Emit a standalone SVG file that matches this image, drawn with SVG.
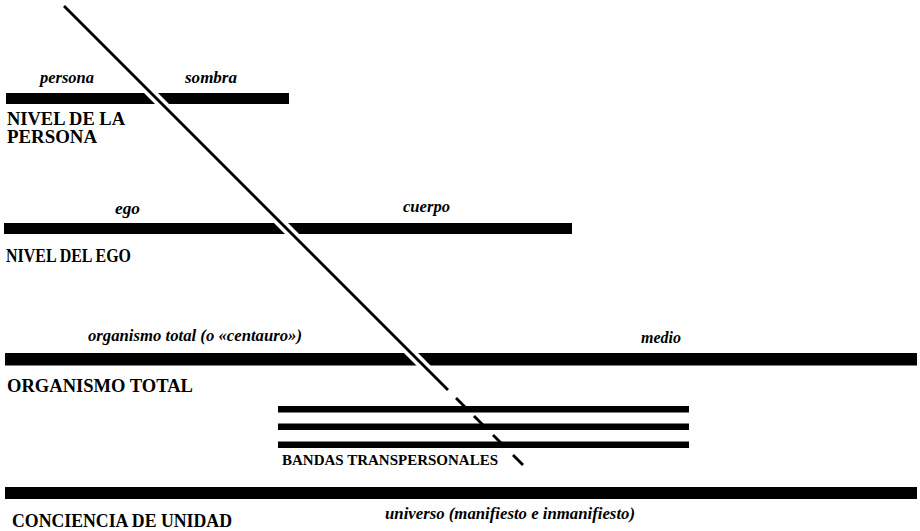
<svg xmlns="http://www.w3.org/2000/svg" width="920" height="531" viewBox="0 0 920 531">
<style>
text{font-family:'Liberation Serif','Times New Roman',Times,serif;fill:#000}
.bar{fill:#000}
.tb{fill:#000}
.h{font-weight:bold;font-size:19px}
.hs{font-weight:bold;font-size:15.5px}
.i{font-style:italic;font-weight:bold;font-size:16px}
.halo{stroke:#fff;stroke-width:10;fill:none}
.ln{stroke:#000;stroke-width:2.8;fill:none}
</style>
<rect width="920" height="531" fill="#fff"/>
<g id="nivel-persona">
<rect class="bar" x="6" y="93" width="283" height="11"/>
<text class="i" x="40" y="83" textLength="54" lengthAdjust="spacingAndGlyphs">persona</text>
<text class="i" x="185" y="83" textLength="52" lengthAdjust="spacingAndGlyphs">sombra</text>
<text class="h" x="7" y="125" textLength="118" lengthAdjust="spacingAndGlyphs">NIVEL DE LA</text>
<text class="h" x="7" y="143" textLength="90" lengthAdjust="spacingAndGlyphs">PERSONA</text>
</g>
<g id="nivel-ego">
<rect class="bar" x="4" y="223" width="568" height="11"/>
<text class="i" x="115" y="214" textLength="25" lengthAdjust="spacingAndGlyphs">ego</text>
<text class="i" x="403" y="212" textLength="47" lengthAdjust="spacingAndGlyphs">cuerpo</text>
<text class="h" x="6" y="262" textLength="125" lengthAdjust="spacingAndGlyphs">NIVEL DEL EGO</text>
</g>
<g id="organismo-total">
<rect class="bar" x="5" y="353" width="912" height="12.5"/>
<text class="i" x="88" y="341" textLength="214" lengthAdjust="spacingAndGlyphs">organismo total (o «centauro»)</text>
<text class="i" x="641" y="343" textLength="40" lengthAdjust="spacingAndGlyphs">medio</text>
<text class="h" x="7" y="392" textLength="186" lengthAdjust="spacingAndGlyphs">ORGANISMO TOTAL</text>
</g>
<g id="bandas-transpersonales">
<rect class="tb" x="278" y="406" width="411" height="6.5"/>
<rect class="tb" x="278" y="423.5" width="411" height="6.5"/>
<rect class="tb" x="278" y="441.5" width="411" height="6.5"/>
<text class="hs" x="282" y="465" textLength="216" lengthAdjust="spacingAndGlyphs">BANDAS TRANSPERSONALES</text>
</g>
<g id="conciencia-unidad">
<rect class="bar" x="5" y="487" width="912" height="12"/>
<text class="h" x="12" y="527" textLength="220" lengthAdjust="spacingAndGlyphs">CONCIENCIA DE UNIDAD</text>
<text class="i" x="385" y="519" textLength="250" lengthAdjust="spacingAndGlyphs">universo (manifiesto e inmanifiesto)</text>
</g>
<g id="connectors">
<line class="halo" x1="64" y1="6" x2="448" y2="390"/>
<line class="ln" x1="64" y1="6" x2="448" y2="390"/>
<line class="ln" x1="456" y1="398" x2="465" y2="407"/>
<line class="ln" x1="474" y1="416" x2="484" y2="426"/>
<line class="ln" x1="493" y1="435" x2="501" y2="443"/>
<line class="ln" x1="513" y1="455" x2="523" y2="465"/>
</g>
</svg>
